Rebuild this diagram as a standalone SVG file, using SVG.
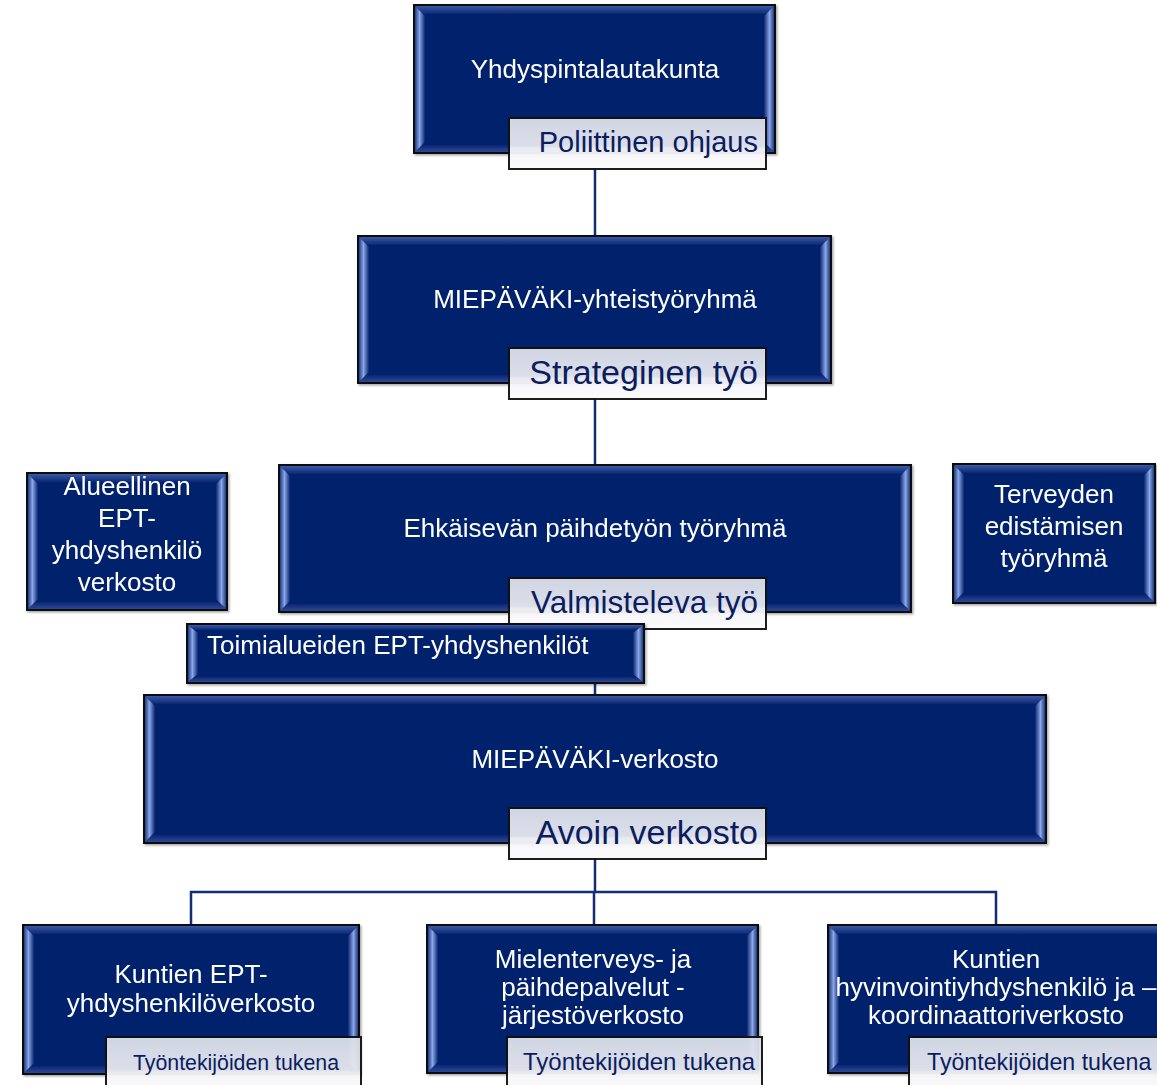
<svg xmlns="http://www.w3.org/2000/svg" width="1157" height="1085" viewBox="0 0 1157 1085">
<defs>
<linearGradient id="bvL" x1="0" y1="0" x2="1" y2="0">
<stop offset="0" stop-color="#1d3a86"/><stop offset="0.45" stop-color="#8aa6e6"/><stop offset="1" stop-color="#0a2672"/>
</linearGradient>
<linearGradient id="bvR" x1="0" y1="0" x2="1" y2="0">
<stop offset="0" stop-color="#0a2672"/><stop offset="0.55" stop-color="#8aa6e6"/><stop offset="1" stop-color="#1d3a86"/>
</linearGradient>
<linearGradient id="bvT" x1="0" y1="0" x2="0" y2="1">
<stop offset="0" stop-color="#3b5aa8"/><stop offset="1" stop-color="#0a2672"/>
</linearGradient>
<linearGradient id="bvB" x1="0" y1="0" x2="0" y2="1">
<stop offset="0" stop-color="#0a2672"/><stop offset="1" stop-color="#2c4896"/>
</linearGradient>
<linearGradient id="lab" x1="0" y1="0" x2="0" y2="1">
<stop offset="0" stop-color="#dcdfea"/><stop offset="0.55" stop-color="#e7e9f0"/><stop offset="0.6" stop-color="#f6f6f9"/><stop offset="1" stop-color="#fbfbfc"/>
</linearGradient>
<filter id="sh" x="-5%" y="-5%" width="110%" height="115%">
<feDropShadow dx="1.5" dy="1.5" stdDeviation="1" flood-color="#000" flood-opacity="0.35"/>
</filter>
</defs>
<style>
.box{fill:#05236d;stroke:#111;stroke-width:2}
.bl{fill:url(#bvL)}.br{fill:url(#bvR)}.bt{fill:url(#bvT)}.bb{fill:url(#bvB)}
.lab{fill:url(#lab);stroke:#111;stroke-width:2;opacity:0.95}
.t{font-family:"Liberation Sans",Arial,sans-serif;fill:#fff;font-size:26px;text-anchor:middle}
.lt{font-family:"Liberation Sans",Arial,sans-serif;fill:#0b1d5e}
.con{fill:none;stroke:#132c74;stroke-width:2.5}
</style>
<rect width="1157" height="1085" fill="#fff"/>
<g id="connectors">
<path class="con" d="M595,169V236M595,399V465M595,683V695M595,859V892M191,925V892H996V925M594,892V925"/>
</g>

<g id="n1" filter="url(#sh)">
<rect class="box" x="414" y="5" width="361" height="148"/>
<polygon class="bt" points="415,6 774,6 766,14 423,14"/>
<polygon class="bb" points="415,152 774,152 766,145 423,145"/>
<polygon class="bl" points="415,6 425,16 425,142 415,152"/>
<polygon class="br" points="774,6 764,16 764,142 774,152"/>
<text class="t" x="595" y="78">Yhdyspintalautakunta</text>
</g>
<g id="n1-label">
<rect class="lab" x="509" y="118" width="257" height="51"/>
<text class="lt" x="758" y="152" font-size="29" text-anchor="end">Poliittinen ohjaus</text>
</g>

<g id="n2" filter="url(#sh)">
<rect class="box" x="358" y="236" width="473" height="147"/>
<polygon class="bt" points="359,237 830,237 822,245 367,245"/>
<polygon class="bb" points="359,382 830,382 822,375 367,375"/>
<polygon class="bl" points="359,237 369,247 369,372 359,382"/>
<polygon class="br" points="830,237 820,247 820,372 830,382"/>
<text class="t" x="595" y="308">MIEPÄVÄKI-yhteistyöryhmä</text>
</g>
<g id="n2-label">
<rect class="lab" x="509" y="348" width="257" height="51"/>
<text class="lt" x="758" y="384" font-size="34" text-anchor="end">Strateginen työ</text>
</g>

<g id="n3" filter="url(#sh)">
<rect class="box" x="279" y="465" width="632" height="147"/>
<polygon class="bt" points="280,466 910,466 902,474 288,474"/>
<polygon class="bb" points="280,611 910,611 902,604 288,604"/>
<polygon class="bl" points="280,466 290,476 290,601 280,611"/>
<polygon class="br" points="910,466 900,476 900,601 910,611"/>
<text class="t" x="595" y="537">Ehkäisevän päihdetyön työryhmä</text>
</g>
<g id="n3-label">
<rect class="lab" x="509" y="578" width="257" height="51"/>
<text class="lt" x="758" y="613" font-size="31.5" text-anchor="end">Valmisteleva työ</text>
</g>

<g id="left" filter="url(#sh)">
<rect class="box" x="27" y="473" width="200" height="137"/>
<polygon class="bt" points="28,474 226,474 218,482 36,482"/>
<polygon class="bb" points="28,609 226,609 218,602 36,602"/>
<polygon class="bl" points="28,474 38,484 38,599 28,609"/>
<polygon class="br" points="226,474 216,484 216,599 226,609"/>
<text class="t" x="127" y="495">Alueellinen</text>
<text class="t" x="127" y="527">EPT-</text>
<text class="t" x="127" y="559">yhdyshenkilö</text>
<text class="t" x="127" y="591">verkosto</text>
</g>

<g id="right" filter="url(#sh)">
<rect class="box" x="953" y="464" width="202" height="139"/>
<polygon class="bt" points="954,465 1154,465 1146,473 962,473"/>
<polygon class="bb" points="954,602 1154,602 1146,595 962,595"/>
<polygon class="bl" points="954,465 964,475 964,592 954,602"/>
<polygon class="br" points="1154,465 1144,475 1144,592 1154,602"/>
<text class="t" x="1054" y="503">Terveyden</text>
<text class="t" x="1054" y="535">edistämisen</text>
<text class="t" x="1054" y="567">työryhmä</text>
</g>

<g id="toim" filter="url(#sh)">
<rect class="box" x="187" y="624" width="457" height="59"/>
<polygon class="bt" points="188,625 643,625 636,630 195,630"/>
<polygon class="bb" points="188,682 643,682 636,677 195,677"/>
<polygon class="bl" points="188,625 198,633 198,674 188,682"/>
<polygon class="br" points="643,625 633,633 633,674 643,682"/>
<text class="t" x="207" y="654" style="text-anchor:start">Toimialueiden EPT-yhdyshenkilöt</text>
</g>

<g id="n4" filter="url(#sh)">
<rect class="box" x="144" y="695" width="902" height="148"/>
<polygon class="bt" points="145,696 1045,696 1037,704 153,704"/>
<polygon class="bb" points="145,842 1045,842 1037,835 153,835"/>
<polygon class="bl" points="145,696 155,706 155,832 145,842"/>
<polygon class="br" points="1045,696 1035,706 1035,832 1045,842"/>
<text class="t" x="595" y="768">MIEPÄVÄKI-verkosto</text>
</g>
<g id="n4-label">
<rect class="lab" x="509" y="808" width="257" height="51"/>
<text class="lt" x="758" y="844" font-size="34" text-anchor="end">Avoin verkosto</text>
</g>

<g id="bA" filter="url(#sh)">
<rect class="box" x="23" y="925" width="336" height="149"/>
<polygon class="bt" points="24,926 358,926 350,934 32,934"/>
<polygon class="bb" points="24,1073 358,1073 350,1066 32,1066"/>
<polygon class="bl" points="24,926 34,936 34,1063 24,1073"/>
<polygon class="br" points="358,926 348,936 348,1063 358,1073"/>
<text class="t" x="191" y="983">Kuntien EPT-</text>
<text class="t" x="191" y="1012">yhdyshenkilöverkosto</text>
</g>
<g id="bA-label">
<rect class="lab" x="106" y="1037" width="255" height="60"/>
<text class="lt" x="133" y="1070" font-size="21.3">Työntekijöiden tukena</text>
</g>

<g id="bB" filter="url(#sh)">
<rect class="box" x="427" y="925" width="331" height="148"/>
<polygon class="bt" points="428,926 757,926 749,934 436,934"/>
<polygon class="bb" points="428,1072 757,1072 749,1065 436,1065"/>
<polygon class="bl" points="428,926 438,936 438,1062 428,1072"/>
<polygon class="br" points="757,926 747,936 747,1062 757,1072"/>
<text class="t" x="593" y="968">Mielenterveys- ja</text>
<text class="t" x="593" y="996">päihdepalvelut -</text>
<text class="t" x="593" y="1024">järjestöverkosto</text>
</g>
<g id="bB-label">
<rect class="lab" x="507" y="1037" width="255" height="60"/>
<text class="lt" x="523" y="1070" font-size="24">Työntekijöiden tukena</text>
</g>

<g id="bC" filter="url(#sh)">
<rect class="box" x="828" y="925" width="340" height="148"/>
<polygon class="bt" points="829,926 1167,926 1159,934 837,934"/>
<polygon class="bb" points="829,1072 1167,1072 1159,1065 837,1065"/>
<polygon class="bl" points="829,926 839,936 839,1062 829,1072"/>
<text class="t" x="996" y="968">Kuntien</text>
<text class="t" x="996" y="996">hyvinvointiyhdyshenkilö ja –</text>
<text class="t" x="996" y="1024">koordinaattoriverkosto</text>
</g>
<g id="bC-label">
<rect class="lab" x="909" y="1037" width="260" height="60"/>
<text class="lt" x="927" y="1070" font-size="23.2">Työntekijöiden tukena</text>
</g>
</svg>
